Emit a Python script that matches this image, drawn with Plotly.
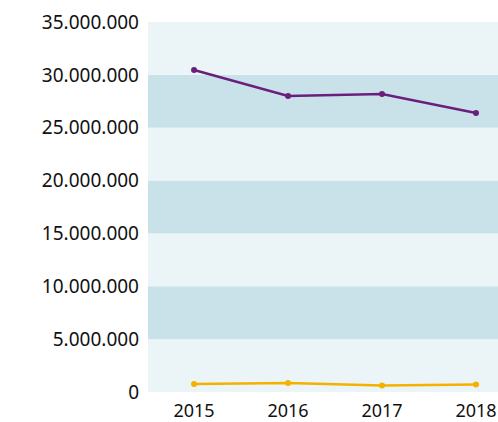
import plotly.graph_objects as go

years = [2015, 2016, 2017, 2018]
series_purple = [30460000, 28000000, 28190000, 26390000]
series_orange = [760000, 850000, 610000, 710000]
y_ticks = [0, 5000000, 10000000, 15000000, 20000000, 25000000, 30000000, 35000000]

fig = go.Figure()
fig.add_trace(go.Scatter(x=years, y=series_purple, mode="lines+markers",
                         line=dict(color="#6B1F7C", width=2.5),
                         marker=dict(size=6, color="#6B1F7C"), showlegend=False))
fig.add_trace(go.Scatter(x=years, y=series_orange, mode="lines+markers",
                         line=dict(color="#F5B100", width=2.5),
                         marker=dict(size=6, color="#F5B100"), showlegend=False))

shapes = []
for i in range(len(y_ticks) - 1):
    shapes.append(dict(type="rect", xref="paper", yref="y", x0=0, x1=1,
                       y0=y_ticks[i], y1=y_ticks[i + 1],
                       fillcolor="#C9E2E9" if i % 2 == 1 else "#EBF5F8",
                       line=dict(width=0), layer="below"))

fig.update_layout(
    width=498, height=422,
    margin=dict(l=148, r=0, t=22, b=30, autoexpand=False),
    paper_bgcolor="white", plot_bgcolor="white",
    separators=",.",
    font=dict(family="Noto Sans", size=17, color="#111111"),
    shapes=shapes,
    xaxis=dict(range=[2014.51, 2018.234], tickvals=years, ticktext=[str(y) for y in years],
               showgrid=False, zeroline=False, showline=False, ticks="", ticklen=0,
               automargin=False, tickfont=dict(size=18), ticklabelstandoff=6),
    yaxis=dict(range=[0, 35000000], tickvals=y_ticks, tickformat=",d",
               showgrid=False, zeroline=False, showline=False, ticks="",
               automargin=False, tickfont=dict(size=19), ticklabelstandoff=8),
)
fig.write_html("out.html",
               config={"displayModeBar": False},
               post_script="document.body.style.margin='0';document.body.style.overflow='hidden';")
